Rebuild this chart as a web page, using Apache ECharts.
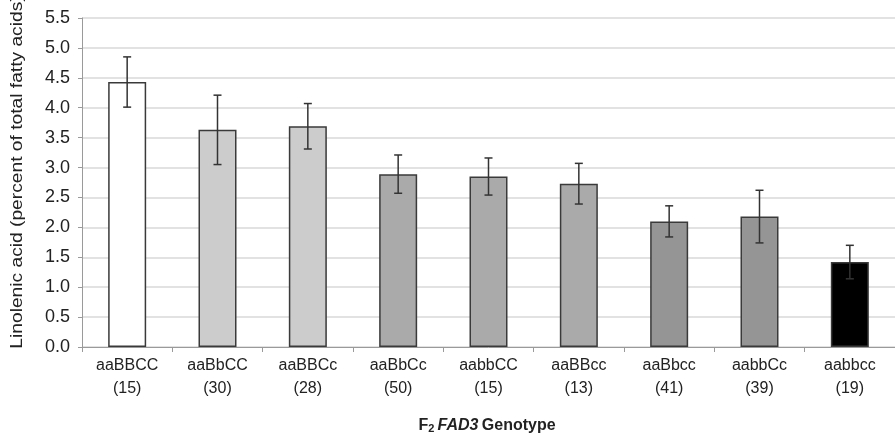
<!DOCTYPE html>
<html>
<head>
<meta charset="utf-8">
<script src="https://cdn.jsdelivr.net/npm/echarts@6/dist/echarts.min.js"></script>
<style>
  html, body { margin: 0; padding: 0; background: #fff; }
  #main { width: 895px; height: 435px; }
</style>
</head>
<body>
<div id="main"></div>
<script>
// genotypes (n in brackets)
var genotypes = ['aaBBCC', 'aaBbCC', 'aaBBCc', 'aaBbCc', 'aabbCC', 'aaBBcc', 'aaBbcc', 'aabbCc', 'aabbcc'];
var counts = [15, 30, 28, 50, 15, 13, 41, 39, 19];
var means = [4.43, 3.63, 3.69, 2.89, 2.85, 2.73, 2.10, 2.18, 1.42];
var errs = [0.42, 0.58, 0.38, 0.32, 0.31, 0.34, 0.26, 0.44, 0.28];
var fills = ['#ffffff', '#cccccc', '#cccccc', '#aaaaaa', '#aaaaaa', '#aaaaaa', '#959595', '#959595', '#000000'];

var myChart = echarts.init(document.getElementById('main'));

var font = 'Liberation Sans, Arial, sans-serif';

option = {
    animation: false,
    grid: { left: 82, right: -4, top: 18, bottom: 88 },
    xAxis: {
        type: 'category',
        data: genotypes.map(function (g, i) { return g + '\n(' + counts[i] + ')'; }),
        axisLine: { lineStyle: { color: '#9a9a9a', width: 1 } },
        axisTick: { show: true, length: 5, lineStyle: { color: '#9a9a9a' } },
        axisLabel: { color: '#222', fontFamily: font, fontSize: 16, lineHeight: 23, margin: 7 }
    },
    yAxis: {
        type: 'value',
        min: 0,
        max: 5.5,
        interval: 0.5,
        axisLine: { show: true, lineStyle: { color: '#9a9a9a' } },
        axisTick: { show: true, length: 4, lineStyle: { color: '#9a9a9a' } },
        axisLabel: { color: '#222', fontFamily: font, fontSize: 18, margin: 12,
            formatter: function (v) { return v.toFixed(1); } },
        splitLine: { lineStyle: { color: '#d9d9d9', width: 1.5 } }
    },
    graphic: [
        {
            type: 'text',
            x: 18,
            y: 172,
            rotation: Math.PI / 2,
            scaleX: 1.2,
            style: {
                text: 'Linolenic acid (percent of total fatty acids)',
                fontFamily: font,
                fontSize: 16,
                fill: '#222',
                align: 'center',
                verticalAlign: 'middle'
            }
        },
        {
            type: 'text',
            x: 487,
            y: 426,
            style: {
                text: '{n|F}{s|2} {i|FAD3} {n|Genotype}',
                align: 'center',
                verticalAlign: 'middle',
                rich: {
                    n: { fontFamily: font, fontSize: 16, fontWeight: 'bold', fill: '#222' },
                    s: { fontFamily: font, fontSize: 11, fontWeight: 'bold', fill: '#222', padding: [6, 0, 0, 0] },
                    i: { fontFamily: font, fontSize: 16, fontWeight: 'bold', fontStyle: 'italic', fill: '#222' }
                }
            }
        }
    ],
    series: [
        {
            type: 'bar',
            barWidth: 38,
            data: means.map(function (v, i) {
                return { value: v, itemStyle: { color: fills[i] } };
            }),
            itemStyle: { borderColor: '#3a3a3a', borderWidth: 1.5 },
            z: 2
        },
        {
            type: 'custom',
            z: 3,
            data: means.map(function (v, i) { return [i, v - errs[i], v + errs[i]]; }),
            renderItem: function (params, api) {
                var lo = api.coord([api.value(0), api.value(1)]);
                var hi = api.coord([api.value(0), api.value(2)]);
                var w = 4;
                var st = { stroke: '#333', lineWidth: 1.5 };
                return {
                    type: 'group',
                    children: [
                        { type: 'line', shape: { x1: hi[0], y1: hi[1], x2: lo[0], y2: lo[1] }, style: st },
                        { type: 'line', shape: { x1: hi[0] - w, y1: hi[1], x2: hi[0] + w, y2: hi[1] }, style: st },
                        { type: 'line', shape: { x1: lo[0] - w, y1: lo[1], x2: lo[0] + w, y2: lo[1] }, style: st }
                    ]
                };
            }
        }
    ]
};

myChart.setOption(option);
window.onresize = myChart.resize;
</script>
</body>
</html>
